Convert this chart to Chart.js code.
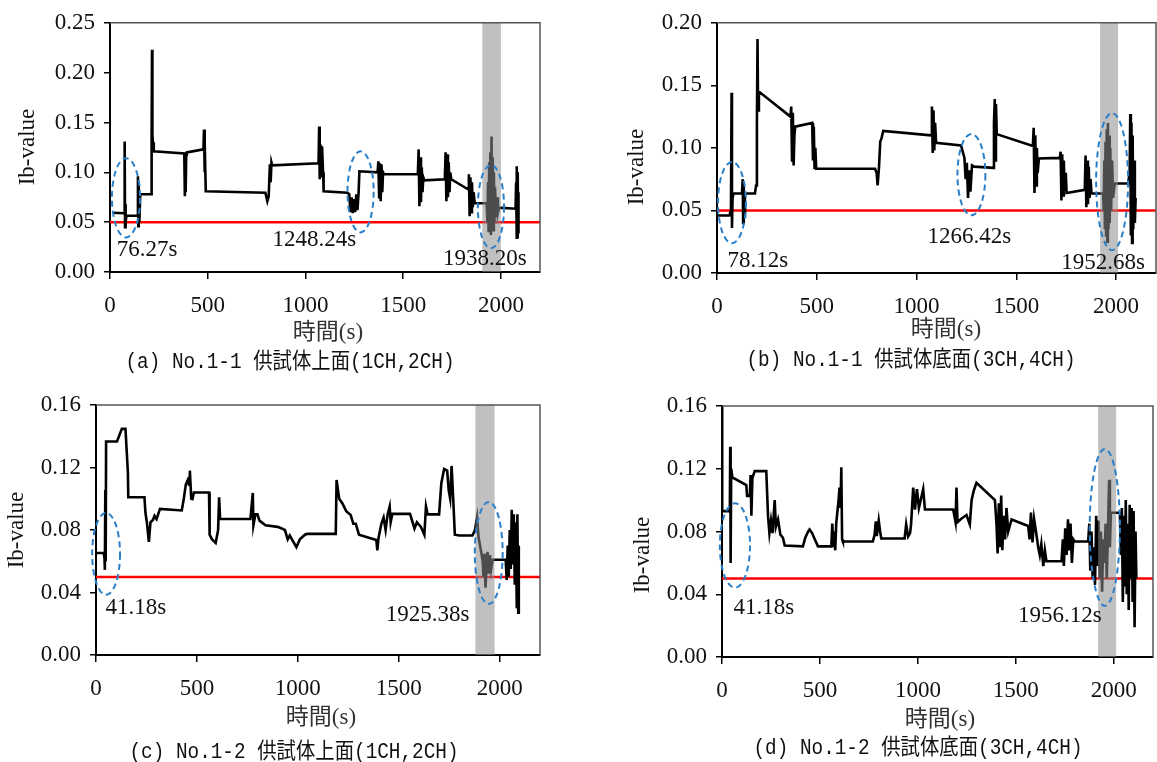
<!DOCTYPE html>
<html>
<head>
<meta charset="utf-8">
<script src="https://cdn.jsdelivr.net/npm/chart.js@4.4.1/dist/chart.umd.min.js"></script>
<style>
  html, body { margin: 0; padding: 0; background: #fff; }
  body { width: 1157px; height: 762px; position: relative; overflow: hidden; }
  canvas { position: absolute; }
</style>
</head>
<body>
<canvas id="chart-a" width="578" height="381" style="left:0;top:0"></canvas>
<canvas id="chart-b" width="579" height="381" style="left:578px;top:0"></canvas>
<canvas id="chart-c" width="578" height="381" style="left:0;top:381px"></canvas>
<canvas id="chart-d" width="579" height="381" style="left:578px;top:381px"></canvas>
<script>
'use strict';

/* global Chart */

// shared axis settings
const xRange = [0, 2200];
const xTicks = [0, 500, 1000, 1500, 2000];
const ibLimit = 0.05;

// (a) No.1-1 top face (1CH,2CH)
const timeA = [
  15, 72, 75, 77, 79, 81, 84, 140, 143, 145,
  147, 150, 155, 210, 213, 215, 217, 220, 224, 380,
  383, 385, 387, 390, 393, 478, 481, 483, 486, 490,
  795, 805, 812, 818, 822, 826, 830, 1067, 1070, 1073,
  1077, 1081, 1085, 1090, 1093, 1214, 1224, 1230, 1236, 1242,
  1248, 1254, 1260, 1266, 1272, 1276, 1369, 1373, 1377, 1381,
  1385, 1389, 1393, 1397, 1402, 1575, 1579, 1583, 1587, 1591,
  1595, 1599, 1603, 1608, 1713, 1717, 1721, 1725, 1729, 1733,
  1737, 1741, 1746, 1832, 1836, 1840, 1844, 1848, 1852, 1856,
  1860, 1866, 1927, 1931, 1934, 1937, 1940, 1943, 1946, 1949,
  1952, 1955, 1958, 1961, 1964, 1967, 1970, 1975, 1980, 1985,
  1990, 2075, 2078, 2080, 2082, 2084, 2086, 2088, 2090
];
const ibA = [
  .0595, .059, .131, .045, .068, .05, .0565, .0565, .096, .046,
  .09, .05, .078, .078, .135, .223, .125, .13, .121, .119,
  .076, .12, .08, .118, .12, .123, .143, .1, .13, .081,
  .0795, .071, .076, .108, .09, .11, .107, .109, .146, .093,
  .128, .095, .126, .1, .081, .0795, .078, .06, .075, .059,
  .073, .06, .078, .062, .08, .101, .1, .111, .075, .109,
  .071, .108, .08, .1, .098, .098, .123, .066, .115, .07,
  .105, .08, .095, .092, .093, .12, .071, .118, .075, .11,
  .08, .1, .093, .083, .098, .056, .095, .06, .09, .065,
  .08, .069, .069, .05, .09, .04, .11, .045, .12, .037,
  .136, .05, .115, .042, .1, .05, .085, .055, .075, .06,
  .0645, .0635, .09, .033, .106, .035, .1, .04, .08
];
const bandA = [1905, 2000];
const ovalsA = [[82, .0744, 72, .0397], [1282, .0804, 67, .0407], [1949, .0655, 67, .0417]];
const notesA = [['76.27s', 190, .0218], ['1248.24s', 1046, .0317], ['1938.20s', 1918, .0129]];

// (b) No.1-1 bottom face (3CH,4CH)
const timeB = [
  5, 62, 70, 73, 75, 78, 82, 125, 129, 131,
  134, 137, 140, 190, 196, 200, 203, 206, 210, 368,
  372, 376, 380, 384, 388, 392, 477, 481, 485, 489,
  493, 497, 792, 800, 805, 812, 818, 825, 833, 1073,
  1077, 1081, 1085, 1089, 1093, 1098, 1223, 1240, 1246, 1252,
  1258, 1264, 1270, 1278, 1290, 1385, 1388, 1392, 1395, 1398,
  1402, 1583, 1587, 1591, 1595, 1599, 1603, 1607, 1613, 1718,
  1722, 1726, 1730, 1734, 1738, 1742, 1748, 1752, 1843, 1847,
  1851, 1855, 1859, 1863, 1867, 1872, 1877, 1935, 1938, 1941,
  1944, 1947, 1950, 1953, 1956, 1959, 1962, 1965, 1968, 1971,
  1975, 1980, 1985, 1993, 2060, 2068, 2071, 2074, 2077, 2080,
  2083, 2086, 2090, 2094, 2098
];
const ibB = [
  .046, .046, .05, .144, .036, .06, .0635, .0635, .075, .04,
  .07, .045, .0635, .0635, .07, .12, .187, .13, .145, .125,
  .133, .09, .128, .086, .11, .117, .12, .09, .117, .083,
  .1, .0833, .0833, .08, .07, .085, .105, .108, .1135, .11,
  .133, .096, .13, .098, .12, .104, .102, .092, .075, .088,
  .06, .082, .065, .086, .085, .084, .12, .139, .09, .135,
  .111, .1015, .116, .064, .11, .07, .1, .08, .0915, .092,
  .097, .058, .095, .062, .09, .066, .08, .064, .0665, .094,
  .0525, .09, .055, .085, .06, .075, .0635, .0635, .05, .09,
  .035, .105, .03, .115, .025, .12, .035, .11, .04, .1,
  .05, .09, .06, .0715, .0715, .08, .127, .03, .12, .024,
  .11, .035, .09, .04, .06
];
const bandB = [1920, 2010];
const ovalsB = [[75, .0563, 70, .0325], [1275, .0786, 70, .0325], [1980, .073, 80, .0548]];
const notesB = [['78.12s', 205, .0095], ['1266.42s', 1265, .0286], ['1952.68s', 1935, .0079]];

// (c) No.1-2 top face (1CH,2CH)
const timeC = [
  5, 38, 42, 44, 46, 48, 50, 104, 128, 146,
  158, 160, 240, 245, 252, 262, 270, 282, 290, 300,
  317, 425, 435, 445, 455, 461, 465, 472, 478, 485,
  560, 563, 575, 593, 605, 610, 615, 765, 777, 780,
  790, 800, 810, 840, 900, 920, 936, 950, 960, 975,
  993, 1010, 1035, 1046, 1188, 1192, 1205, 1221, 1240, 1262,
  1275, 1287, 1303, 1389, 1394, 1400, 1414, 1425, 1435, 1445,
  1455, 1460, 1468, 1556, 1578, 1590, 1610, 1627, 1635, 1643,
  1700, 1711, 1725, 1740, 1748, 1755, 1762, 1770, 1778, 1800,
  1865, 1878, 1888, 1896, 1903, 1910, 1916, 1920, 1925, 1930,
  1935, 1940, 1946, 1952, 1958, 1965, 2030, 2035, 2040, 2045,
  2050, 2055, 2060, 2065, 2070, 2075, 2080, 2085, 2088, 2092,
  2095
];
const ibC = [
  .0653, .0653, .062, .0545, .1056, .06, .1366, .1366, .1447, .1447,
  .117, .101, .101, .091, .085, .0724, .085, .0864, .089, .087,
  .0935, .0925, .1, .109, .112, .109, .118, .1, .0998, .104,
  .104, .077, .074, .0717, .08, .101, .087, .087, .1037, .083,
  .09, .09, .086, .083, .082, .081, .08, .074, .0765, .073,
  .069, .074, .077, .0775, .0775, .112, .1, .097, .092, .0896,
  .084, .084, .077, .0736, .067, .075, .084, .088, .08, .09,
  .095, .085, .0903, .0903, .081, .085, .082, .077, .095, .09,
  .09, .11, .119, .118, .105, .1, .121, .1, .077, .0765,
  .0765, .08, .088, .075, .07, .065, .06, .05, .065, .043,
  .058, .066, .052, .064, .055, .061, .061, .048, .07, .05,
  .08, .055, .093, .058, .09, .045, .085, .03, .09, .027,
  .07
];
const bandC = [1880, 1975];
const ovalsC = [[50, .0647, 69, .0262], [1946, .0653, 69, .0327]];
const notesC = [['41.18s', 198, .0301], ['1925.38s', 1643, .0256]];

// (d) No.1-2 bottom face (3CH,4CH)
const timeD = [
  0, 1, 40, 42, 44, 47, 53, 124, 128, 142,
  146, 150, 155, 167, 226, 235, 242, 250, 258, 269,
  275, 286, 298, 311, 320, 413, 425, 440, 447, 460,
  470, 490, 558, 563, 568, 573, 578, 583, 595, 600,
  605, 609, 613, 617, 770, 779, 785, 790, 800, 807,
  813, 932, 940, 950, 960, 965, 976, 985, 995, 1005,
  1027, 1036, 1180, 1192, 1197, 1202, 1220, 1248, 1265, 1274,
  1285, 1299, 1393, 1401, 1407, 1413, 1419, 1425, 1431, 1437,
  1445, 1452, 1461, 1478, 1563, 1570, 1577, 1585, 1593, 1605,
  1614, 1622, 1630, 1640, 1648, 1656, 1733, 1740, 1745, 1752,
  1759, 1766, 1772, 1779, 1786, 1793, 1801, 1869, 1875, 1880,
  1886, 1892, 1898, 1904, 1910, 1916, 1922, 1928, 1934, 1940,
  1946, 1952, 1958, 1964, 1970, 1976, 1980, 1985, 2031, 2036,
  2041, 2046, 2051, 2056, 2061, 2066, 2071, 2076, 2081, 2086,
  2091, 2096, 2101, 2106, 2111, 2115
];
const ibD = [
  .16, .093, .093, .134, .06, .12, .1145, .1096, .1027, .1027,
  .116, .09, .114, .1185, .1185, .0898, .079, .087, .079, .1,
  .083, .0877, .078, .076, .0711, .0705, .076, .08, .0813, .079,
  .076, .0705, .0705, .085, .07, .08, .068, .085, .1, .108,
  .095, .121, .075, .0736, .0736, .078, .0864, .077, .087, .08,
  .0755, .0755, .0845, .0768, .079, .0845, .108, .094, .107, .095,
  .107, .094, .094, .086, .108, .086, .088, .0905, .0845, .1,
  .106, .111, .1, .085, .066, .098, .07, .103, .068, .09,
  .075, .095, .08, .0877, .0835, .075, .092, .073, .088, .078,
  .07, .065, .072, .058, .068, .061, .061, .075, .058, .082,
  .065, .0877, .068, .085, .06, .075, .0736, .0736, .085, .055,
  .08, .05, .07, .046, .09, .058, .087, .05, .08, .0416,
  .075, .06, .085, .05, .08, .113, .07, .092, .092, .065,
  .095, .035, .09, .045, .1, .04, .085, .03, .097, .05,
  .095, .035, .093, .019, .08, .05
];
const bandD = [1920, 2012];
const ovalsD = [[66, .0711, 77, .0269], [1954, .0826, 77, .05]];
const notesD = [['41.18s', 214, .0314], ['1956.12s', 1724, .0262]];

const SERIF = "'Liberation Serif', 'Times New Roman', serif";

const panels = [
  { canvas: 'chart-a', time: timeA, ib: ibA, yMax: 0.25, yStep: 0.05,
    band: bandA, ovals: ovalsA, notes: notesA,
    area: { left: 110, top: 20, right: 540, bottom: 272 },
    yTitleAt: [28, 147], xTitleAt: [328, 333], captionAt: [290, 362],
    caption: '(a) No.1-1 供試体上面(1CH,2CH)' },
  { canvas: 'chart-b', time: timeB, ib: ibB, yMax: 0.20, yStep: 0.05,
    band: bandB, ovals: ovalsB, notes: notesB,
    area: { left: 139, top: 21, right: 578, bottom: 273 },
    yTitleAt: [59, 167], xTitleAt: [368, 330], captionAt: [333, 360],
    caption: '(b) No.1-1 供試体底面(3CH,4CH)' },
  { canvas: 'chart-c', time: timeC, ib: ibC, yMax: 0.16, yStep: 0.04,
    band: bandC, ovals: ovalsC, notes: notesC,
    area: { left: 96, top: 24, right: 540, bottom: 274 },
    yTitleAt: [17, 149], xTitleAt: [321, 337], captionAt: [294, 371],
    caption: '(c) No.1-2 供試体上面(1CH,2CH)' },
  { canvas: 'chart-d', time: timeD, ib: ibD, yMax: 0.16, yStep: 0.04,
    band: bandD, ovals: ovalsD, notes: notesD,
    area: { left: 144, top: 25, right: 575, bottom: 276 },
    yTitleAt: [65, 174], xTitleAt: [362, 339], captionAt: [340, 367],
    caption: '(d) No.1-2 供試体底面(3CH,4CH)' }
];

// band, frame, dashed ovals, time labels, titles
function sketchLayer(p) {
  return {
    id: 'sketchLayer',
    afterDatasetsDraw(chart) {
      const { ctx, chartArea: area } = chart;
      const x = chart.scales.x, y = chart.scales.y;
      ctx.save();
      const x0 = x.getPixelForValue(p.band[0]);
      const x1 = x.getPixelForValue(p.band[1]);
      ctx.fillStyle = 'rgba(140,140,140,0.55)';
      ctx.fillRect(x0, area.top, x1 - x0, area.bottom - area.top);

      ctx.strokeStyle = '#555';
      ctx.lineWidth = 1.5;
      ctx.beginPath();
      ctx.moveTo(area.left, area.top);
      ctx.lineTo(area.right, area.top);
      ctx.lineTo(area.right, area.bottom);
      ctx.stroke();

      ctx.strokeStyle = '#2a7fc9';
      ctx.lineWidth = 2;
      ctx.setLineDash([6, 4]);
      p.ovals.forEach(([t, v, dt, dv]) => {
        const cx = x.getPixelForValue(t), cy = y.getPixelForValue(v);
        const rx = x.getPixelForValue(t + dt) - cx;
        const ry = cy - y.getPixelForValue(v + dv);
        ctx.beginPath();
        ctx.ellipse(cx, cy, rx, ry, 0, 0, Math.PI * 2);
        ctx.stroke();
      });
      ctx.setLineDash([]);

      ctx.font = '23px ' + SERIF;
      ctx.fillStyle = '#111';
      ctx.textAlign = 'center';
      ctx.textBaseline = 'middle';
      p.notes.forEach(([label, t, v]) => {
        ctx.fillText(label, x.getPixelForValue(t), y.getPixelForValue(v));
      });
      ctx.restore();
    },
    afterDraw(chart) {
      const ctx = chart.ctx;
      ctx.save();
      ctx.textAlign = 'center';
      ctx.textBaseline = 'middle';
      ctx.fillStyle = '#111';
      ctx.font = '23px ' + SERIF;
      ctx.translate(p.yTitleAt[0], p.yTitleAt[1]);
      ctx.rotate(-Math.PI / 2);
      ctx.fillText('Ib-value', 0, 0);
      ctx.restore();

      ctx.save();
      ctx.textAlign = 'center';
      ctx.textBaseline = 'middle';
      ctx.fillStyle = '#333';
      ctx.font = "23px 'Liberation Serif', 'Noto Sans CJK JP', serif";
      ctx.fillText('時間(s)', p.xTitleAt[0], p.xTitleAt[1]);
      // narrow gothic look for the caption
      ctx.fillStyle = '#111';
      ctx.font = "22px 'Liberation Mono', 'Noto Sans CJK JP', monospace";
      ctx.translate(p.captionAt[0], p.captionAt[1]);
      ctx.scale(0.88, 1);
      ctx.fillText(p.caption, 0, 0);
      ctx.restore();
    }
  };
}

panels.forEach(function(p) {
  const canvas = document.getElementById(p.canvas);
  const W = canvas.width, H = canvas.height;
  const a = p.area;
  const tickFont = { family: SERIF, size: 23 };

  new Chart(canvas, {
    type: 'line',
    data: {
      datasets: [{
        data: p.time.map((t, i) => ({ x: t, y: p.ib[i] })),
        borderColor: '#000',
        borderWidth: 2.6,
        pointRadius: 0,
        tension: 0
      }, {
        data: xRange.map(t => ({ x: t, y: ibLimit })),
        borderColor: '#ff0000',
        borderWidth: 2.5,
        pointRadius: 0
      }]
    },
    options: {
      responsive: false,
      animation: false,
      devicePixelRatio: 1,
      layout: { padding: { left: 0, top: a.top, right: W - a.right, bottom: 0 } },
      plugins: { legend: { display: false }, tooltip: { enabled: false } },
      scales: {
        x: {
          type: 'linear',
          min: xRange[0],
          max: xRange[1],
          afterBuildTicks: s => { s.ticks = xTicks.map(v => ({ value: v })); },
          afterFit: s => { s.height = H - a.bottom; },
          ticks: { autoSkip: false, maxRotation: 0, padding: 13, color: '#111', font: tickFont,
            callback: v => String(v) },
          grid: { drawOnChartArea: false, drawTicks: true, tickLength: 7, color: '#000', lineWidth: 1.5 },
          border: { color: '#000', width: 2 }
        },
        y: {
          min: 0,
          max: p.yMax,
          afterFit: s => { s.width = a.left; },
          ticks: { stepSize: p.yStep, padding: 9, color: '#111', font: tickFont,
            callback: v => v.toFixed(2) },
          grid: { drawOnChartArea: false, drawTicks: true, tickLength: 6, color: '#000', lineWidth: 1.5 },
          border: { color: '#000', width: 2 }
        }
      }
    },
    plugins: [sketchLayer(p)]
  });
});
</script>
</body>
</html>
